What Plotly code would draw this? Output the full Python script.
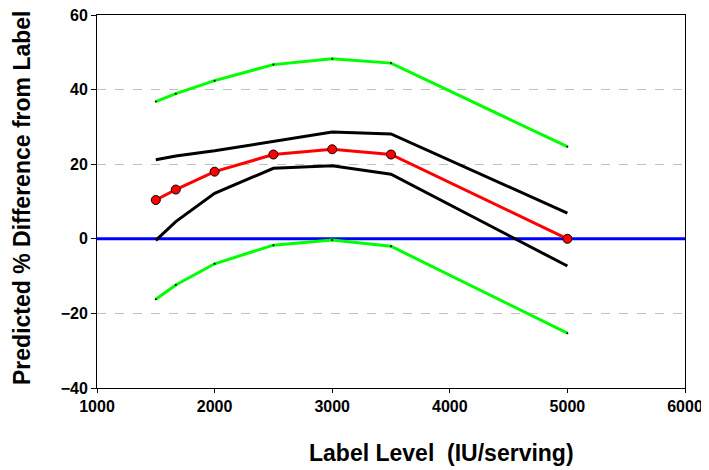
import plotly.graph_objects as go

x_levels = [1500, 1670, 2000, 2500, 3000, 3500, 5000]
predicted = [10.4, 13.2, 18.0, 22.6, 24.0, 22.6, 0.0]
ci_upper = [21.2, 22.2, 23.6, 26.1, 28.6, 28.1, 6.9]
ci_lower = [-0.4, 4.6, 12.2, 18.9, 19.6, 17.3, -7.3]
pi_upper = [36.8, 38.9, 42.4, 46.7, 48.3, 47.1, 24.7]
pi_lower = [-16.2, -12.4, -6.7, -1.7, -0.35, -2.0, -25.3]
ref_x = [1000, 6000]
ref_y = [0, 0]

x_ticks = [1000, 2000, 3000, 4000, 5000, 6000]
y_ticks = [-40, -20, 0, 20, 40, 60]

FONT = "Arial, Liberation Sans, sans-serif"

fig = go.Figure()
fig.add_trace(go.Scatter(x=ref_x, y=ref_y, mode="lines",
                         line=dict(color="#0000ff", width=3), showlegend=False))
for ys in (pi_upper, pi_lower):
    fig.add_trace(go.Scatter(x=x_levels, y=ys, mode="lines+markers",
                             line=dict(color="#00ff00", width=3),
                             marker=dict(color="black", size=2),
                             showlegend=False))
for ys in (ci_upper, ci_lower):
    fig.add_trace(go.Scatter(x=x_levels, y=ys, mode="lines",
                             line=dict(color="black", width=3),
                             showlegend=False))
fig.add_trace(go.Scatter(x=x_levels, y=predicted, mode="lines+markers",
                         line=dict(color="#ff0000", width=3),
                         marker=dict(color="#ff0000", size=9,
                                     line=dict(color="black", width=1)),
                         showlegend=False))

fig.update_layout(
    width=709, height=470,
    margin=dict(l=89, r=32, t=7, b=90),
    paper_bgcolor="white", plot_bgcolor="white",
    font=dict(family=FONT, color="black"),
    xaxis=dict(range=[1000, 6000], tickvals=x_ticks, automargin=False,
               ticklabeloverflow="allow",
               ticks="outside", ticklen=4, tickcolor="black",
               showline=True, linecolor="black", linewidth=1, mirror=True,
               showgrid=False, zeroline=False,
               tickfont=dict(size=16, weight="bold", family=FONT)),
    yaxis=dict(range=[-40, 60], tickvals=y_ticks, automargin=False,
               ticklabeloverflow="allow",
               ticks="outside", ticklen=5, tickcolor="black",
               showline=True, linecolor="black", linewidth=1, mirror=True,
               showgrid=True, gridcolor="#c0c0c0", griddash="dash", gridwidth=1,
               zeroline=False,
               tickfont=dict(size=16, weight="bold", family=FONT)),
    annotations=[
        dict(text="Label Level  (IU/serving)", xref="paper", yref="paper",
             x=(441 - 97) / 588, y=-65 / 373, xanchor="center", yanchor="middle",
             showarrow=False, font=dict(size=23, weight="bold", family=FONT)),
        dict(text="Predicted % Difference from Label", xref="paper", yref="paper",
             x=-75 / 588, y=(373 - (198 - 15)) / 373, xanchor="center", yanchor="middle",
             textangle=-90, showarrow=False,
             font=dict(size=23, weight="bold", family=FONT)),
    ],
)

fig.write_html("out.html")
